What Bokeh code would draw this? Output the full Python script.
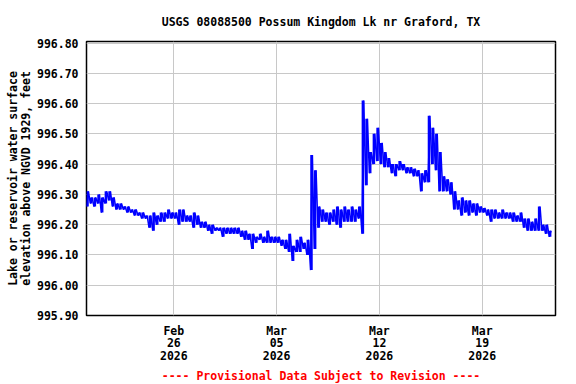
import pandas as pd
from bokeh.plotting import figure
from bokeh.models import ColumnDataSource, Range1d, FixedTicker, Title
from bokeh.embed import file_html
from bokeh.resources import INLINE

# ---------------- data ----------------
title_text = "USGS 08088500 Possum Kingdom Lk nr Graford, TX"
ylabel_text = "Lake or reservoir water surface\nelevation above NGVD 1929, feet"
footer_text = "---- Provisional Data Subject to Revision ----"

series_start = "2026-02-20 00:00"   # first 6-hour bin
bin_hours = 6

# low / high gage height in each 6-hour bin
lo = [
    996.26, 996.27, 996.26, 996.27, 996.24, 996.27, 996.28, 996.26,
    996.25, 996.25, 996.25, 996.24, 996.24, 996.23, 996.23, 996.22,
    996.22, 996.19, 996.18, 996.20, 996.21, 996.21, 996.22, 996.22,
    996.22, 996.20, 996.21, 996.21, 996.21, 996.19, 996.20, 996.19,
    996.19, 996.18, 996.17, 996.18, 996.18, 996.16, 996.17, 996.17,
    996.17, 996.17, 996.16, 996.15, 996.15, 996.12, 996.14, 996.15,
    996.14, 996.14, 996.14, 996.14, 996.14, 996.13, 996.12, 996.11,
    996.08, 996.11, 996.11, 996.12, 996.10, 996.05, 996.12, 996.19,
    996.21, 996.21, 996.20, 996.21, 996.20, 996.19, 996.21, 996.21,
    996.21, 996.21, 996.22, 996.17, 996.33, 996.37, 996.40, 996.41,
    996.40, 996.39, 996.39, 996.37, 996.36, 996.38, 996.38, 996.37,
    996.37, 996.36, 996.36, 996.31, 996.34, 996.34, 996.40, 996.38,
    996.31, 996.31, 996.31, 996.30, 996.25, 996.25, 996.23, 996.24,
    996.23, 996.24, 996.23, 996.24, 996.24, 996.23, 996.21, 996.22,
    996.22, 996.22, 996.22, 996.22, 996.21, 996.21, 996.21, 996.19,
    996.18, 996.18, 996.18, 996.18, 996.18, 996.17, 996.16,
]
hi = [
    996.31, 996.29, 996.29, 996.30, 996.29, 996.31, 996.31, 996.29,
    996.27, 996.27, 996.26, 996.26, 996.25, 996.25, 996.24, 996.24,
    996.23, 996.23, 996.24, 996.23, 996.24, 996.24, 996.25, 996.24,
    996.24, 996.25, 996.25, 996.23, 996.23, 996.24, 996.23, 996.21,
    996.21, 996.20, 996.20, 996.19, 996.19, 996.19, 996.19, 996.19,
    996.19, 996.19, 996.18, 996.18, 996.17, 996.17, 996.16, 996.17,
    996.16, 996.18, 996.16, 996.16, 996.16, 996.15, 996.15, 996.17,
    996.13, 996.15, 996.16, 996.14, 996.15, 996.43, 996.38, 996.26,
    996.25, 996.24, 996.24, 996.25, 996.26, 996.25, 996.26, 996.25,
    996.26, 996.25, 996.26, 996.61, 996.55, 996.44, 996.50, 996.52,
    996.47, 996.44, 996.42, 996.40, 996.40, 996.41, 996.40, 996.39,
    996.39, 996.385, 996.38, 996.37, 996.38, 996.56, 996.52, 996.50,
    996.44, 996.36, 996.35, 996.34, 996.31, 996.28, 996.29, 996.28,
    996.28, 996.27, 996.27, 996.26, 996.255, 996.25, 996.25, 996.25,
    996.24, 996.25, 996.24, 996.24, 996.24, 996.23, 996.24, 996.22,
    996.22, 996.21, 996.22, 996.26, 996.20, 996.20, 996.18,
]

y_ticks = [995.90, 996.00, 996.10, 996.20, 996.30, 996.40, 996.50, 996.60, 996.70, 996.80]
x_tick_dates = ["2026-02-26", "2026-03-05", "2026-03-12", "2026-03-19"]
x_tick_labels = ["Feb\n26\n2026", "Mar\n05\n2026", "Mar\n12\n2026", "Mar\n19\n2026"]
x_start = "2026-02-20 01:20"
x_end = "2026-03-23 23:46"
y_start, y_end = 995.90, 996.805

# ---------------- build line (alternating low / high within each bin) ----------------
t0 = pd.Timestamp(series_start)
xs, ys, xc = [], [], []
for i, (a, b) in enumerate(zip(lo, hi)):
    base = t0 + pd.Timedelta(hours=bin_hours * i)
    xs.append(base + pd.Timedelta(hours=1.5)); ys.append(a)
    xs.append(base + pd.Timedelta(hours=4.5)); ys.append(b)
    xc.append(base + pd.Timedelta(hours=3))
src = ColumnDataSource(dict(x=xs, y=ys))
bars = ColumnDataSource(dict(x=xc, lo=lo, hi=hi))

FONT = "DejaVu Sans Mono"
FS = "11.5px"

p = figure(width=576, height=384, x_axis_type="datetime",
           output_backend="svg", toolbar_location=None,
           x_range=Range1d(pd.Timestamp(x_start), pd.Timestamp(x_end)),
           y_range=Range1d(y_start, y_end),
           min_border_left=86, min_border_right=21,
           min_border_top=41, min_border_bottom=69)
p.background_fill_color = "white"
p.border_fill_color = "white"
p.outline_line_color = "black"
p.outline_line_width = 1.5

p.segment(x0="x", y0="lo", x1="x", y1="hi", source=bars, line_color="#0000FF", line_width=2.5)
p.line("x", "y", source=src, line_color="#0000FF", line_width=1.5)

# axes
def ms(s):
    return int(pd.Timestamp(s).value // 10**6)

xt = [ms(d) for d in x_tick_dates]
p.xaxis.ticker = FixedTicker(ticks=xt)
p.xgrid.ticker = FixedTicker(ticks=xt)
p.xaxis.major_label_overrides = {k: v for k, v in zip(xt, x_tick_labels)}
p.yaxis.ticker = FixedTicker(ticks=y_ticks)
p.ygrid.ticker = FixedTicker(ticks=y_ticks)
p.yaxis.major_label_overrides = {t: f"{t:.2f}" for t in y_ticks}

for ax in (p.xaxis[0], p.yaxis[0]):
    ax.axis_line_color = None
    ax.major_tick_line_color = None
    ax.minor_tick_line_color = None
    ax.major_tick_in = 0
    ax.major_tick_out = 0
    ax.major_label_text_font = FONT
    ax.major_label_text_font_style = "bold"
    ax.major_label_text_font_size = FS
    ax.major_label_text_color = "black"
    ax.major_label_text_line_height = 0.92
p.xaxis.major_label_standoff = 8
p.yaxis.major_label_standoff = 8

p.yaxis.axis_label = ylabel_text
p.yaxis.axis_label_text_font = FONT
p.yaxis.axis_label_text_font_style = "bold"
p.yaxis.axis_label_text_font_size = FS
p.yaxis.axis_label_text_color = "black"
p.yaxis.axis_label_text_line_height = 0.95
p.yaxis.axis_label_standoff = 1

for g in (p.xgrid[0], p.ygrid[0]):
    g.grid_line_color = "#C8C8C8"
    g.grid_line_width = 1

p.title.text = title_text
p.title.align = "center"
p.title.text_font = FONT
p.title.text_font_style = "bold"
p.title.text_font_size = FS
p.title.text_color = "black"
p.title.standoff = 25

foot = Title(text=footer_text, align="center", text_font=FONT, text_font_style="bold",
             text_font_size=FS, text_color="#FF0000", standoff=0)
p.add_layout(foot, "below")

open("out.html", "w").write(file_html(p, INLINE))
